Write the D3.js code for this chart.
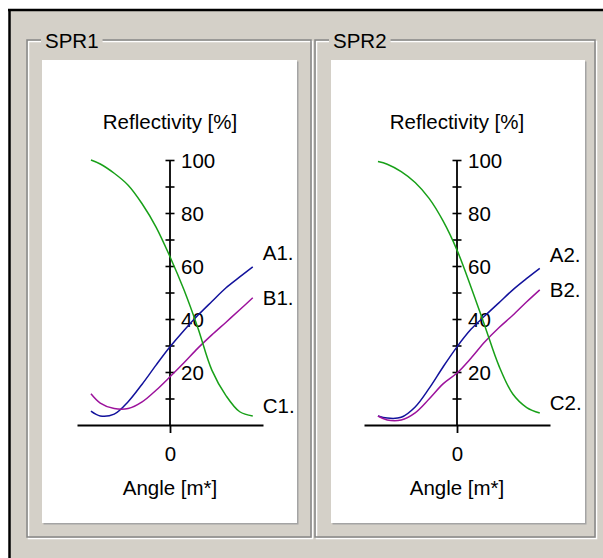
<!DOCTYPE html>
<html>
<head>
<meta charset="utf-8">
<script src="https://cdn.jsdelivr.net/npm/d3@7"></script>
<style>
  html, body { margin: 0; padding: 0; background: #fff; }
  svg { display: block; }
  text { font-family: "Liberation Sans", Arial, sans-serif; font-size: 20.5px; fill: #000; }
</style>
</head>
<body>
<div id="chart"></div>
<script>
// angle samples, shared by every curve
const angles = [-85, -75, -60, -45, -30, -15, 0, 15, 30, 45, 60, 75, 89];

// SPR1 reflectivity [%]
const spr1A = [5.2, 3.4, 4.1, 8.8, 15.4, 22.6, 29.5, 35.7, 41.4, 46.6, 51.7, 55.9, 59.7];
const spr1B = [11.8, 8.3, 6.2, 6.2, 8.7, 13.1, 18.2, 23.5, 29, 34, 38.7, 43.5, 48];
const spr1C = [100, 98.5, 95, 90.5, 83.5, 74.7, 63.5, 51, 36.6, 20.7, 11.2, 5, 3.4];

// SPR2 reflectivity [%]
const spr2A = [3.4, 2.6, 2.9, 6.8, 13.8, 21.9, 29.5, 36.1, 41.2, 46.1, 51, 55.3, 59.1];
const spr2B = [3.4, 1.9, 1.9, 4.6, 9.8, 15.5, 19.6, 25.2, 31.4, 36.7, 41.4, 46.5, 51];
const spr2C = [99.4, 98.4, 95.6, 91.5, 85.5, 77, 66, 52.1, 37.3, 22.4, 11.7, 6.6, 4.5];

const panelNames = ["SPR1", "SPR2"];
const seriesNames = ["A", "B", "C"];
const yTicks = [10, 20, 30, 40, 50, 60, 70, 80, 90, 100];
const yTickLabels = [20, 40, 60, 80, 100];
const xTicks = [0];
const yTitle = "Reflectivity [%]";
const xTitle = "Angle [m*]";

const panelData = [
  [spr1A, spr1B, spr1C],
  [spr2A, spr2B, spr2C]
];

const colors = { A: "#12129c", B: "#9c129c", C: "#18a018" };
const labelNudge = { A: -14, B: 0, C: -10 };

const W = 603, H = 558;
const bg = "#d4d0c8";

// group box / panel placement
const boxes = [
  { gx: 27, gw: 284, px: 42, pw: 255, axis: 170 },
  { gx: 315, gw: 280, px: 331, pw: 254, axis: 457 }
];

let svg = d3.select("#chart").append("svg")
  .attr("width", W)
  .attr("height", H);

// window frame
svg.append("rect").attr("width", W).attr("height", H).attr("fill", "#fff");
svg.append("rect").attr("x", 9).attr("y", 10).attr("width", W - 9).attr("height", H - 10).attr("fill", bg);
svg.append("line").attr("x1", 9.5).attr("x2", 9.5).attr("y1", 9).attr("y2", H)
  .attr("stroke", "#000").attr("stroke-width", 2.5);
svg.append("line").attr("x1", 8).attr("x2", W).attr("y1", 10).attr("y2", 10)
  .attr("stroke", "#000").attr("stroke-width", 2.5);

let y = d3.scaleLinear().domain([0, 100]).range([425, 160]);

panelNames.forEach(function (name, p) {
  let b = boxes[p];
  let gTop = 40, gH = 497;

  // etched group box
  svg.append("rect")
    .attr("x", b.gx + 1.5).attr("y", gTop + 1.5)
    .attr("width", b.gw).attr("height", gH)
    .attr("fill", "none").attr("stroke", "#fff").attr("stroke-width", 1.5);
  svg.append("rect")
    .attr("x", b.gx).attr("y", gTop)
    .attr("width", b.gw).attr("height", gH)
    .attr("fill", "none").attr("stroke", "#868686").attr("stroke-width", 1.5);

  let gap = svg.append("rect")
    .attr("x", b.gx + 14).attr("y", 30)
    .attr("height", 16)
    .attr("fill", bg);
  let title = svg.append("text")
    .attr("x", b.gx + 18).attr("y", 48)
    .text(name);
  gap.attr("width", title.node().getComputedTextLength() + 8);

  // white panel with shadow on right/bottom
  svg.append("rect")
    .attr("x", b.px + 1.5).attr("y", 61.5)
    .attr("width", b.pw).attr("height", 463)
    .attr("fill", "#a4a4a4");
  svg.append("rect")
    .attr("x", b.px).attr("y", 60)
    .attr("width", b.pw).attr("height", 463)
    .attr("fill", "#fff");

  let x = d3.scaleLinear().domain([-100, 100]).range([b.axis - 93, b.axis + 93]);
  let g = svg.append("g");

  let line = d3.line()
    .x(function (d) { return x(d[0]); })
    .y(function (d) { return y(d[1]); })
    .curve(d3.curveCatmullRom.alpha(0.5));

  // x axis
  let xAxis = d3.axisBottom(x).tickValues(xTicks).tickSize(8).tickSizeOuter(0);
  let gx = g.append("g").attr("transform", "translate(0," + y(0) + ")").call(xAxis);
  gx.select(".domain").attr("stroke-width", 1.8);
  gx.selectAll(".tick line").attr("stroke-width", 1.8);
  gx.selectAll(".tick text").attr("y", 36).attr("dy", 0);

  // y axis, ticks crossing the line
  let yAxis = d3.axisRight(y).tickValues(yTicks).tickSize(4).tickSizeOuter(0)
    .tickFormat(function (d) { return yTickLabels.includes(d) ? d : ""; });
  let gy = g.append("g").attr("transform", "translate(" + x(0) + ",0)").call(yAxis);
  gy.select(".domain").remove();
  gy.append("line")
    .attr("x1", 0).attr("x2", 0)
    .attr("y1", y(100)).attr("y2", y(0))
    .attr("stroke", "#000").attr("stroke-width", 1.8);
  gy.selectAll(".tick line").attr("x1", -4.5).attr("x2", 4.5).attr("stroke-width", 1.6);
  gy.selectAll(".tick text").attr("x", 11).attr("dy", "0.36em");

  // titles
  g.append("text")
    .attr("x", x(0)).attr("y", 129)
    .attr("text-anchor", "middle")
    .text(yTitle);
  g.append("text")
    .attr("x", x(0)).attr("y", 495)
    .attr("text-anchor", "middle")
    .text(xTitle);

  // curves
  seriesNames.forEach(function (s, i) {
    let vals = panelData[p][i];
    let pts = angles.map(function (a, k) { return [a, vals[k]]; });
    g.append("path")
      .datum(pts)
      .attr("d", line)
      .attr("fill", "none")
      .attr("stroke", colors[s])
      .attr("stroke-width", 1.5);

    let last = pts[pts.length - 1];
    g.append("text")
      .attr("x", x(last[0]) + 10)
      .attr("y", y(last[1]) + labelNudge[s])
      .attr("dy", "0.36em")
      .text(s + (p + 1) + ".");
  });
});
</script>
</body>
</html>
